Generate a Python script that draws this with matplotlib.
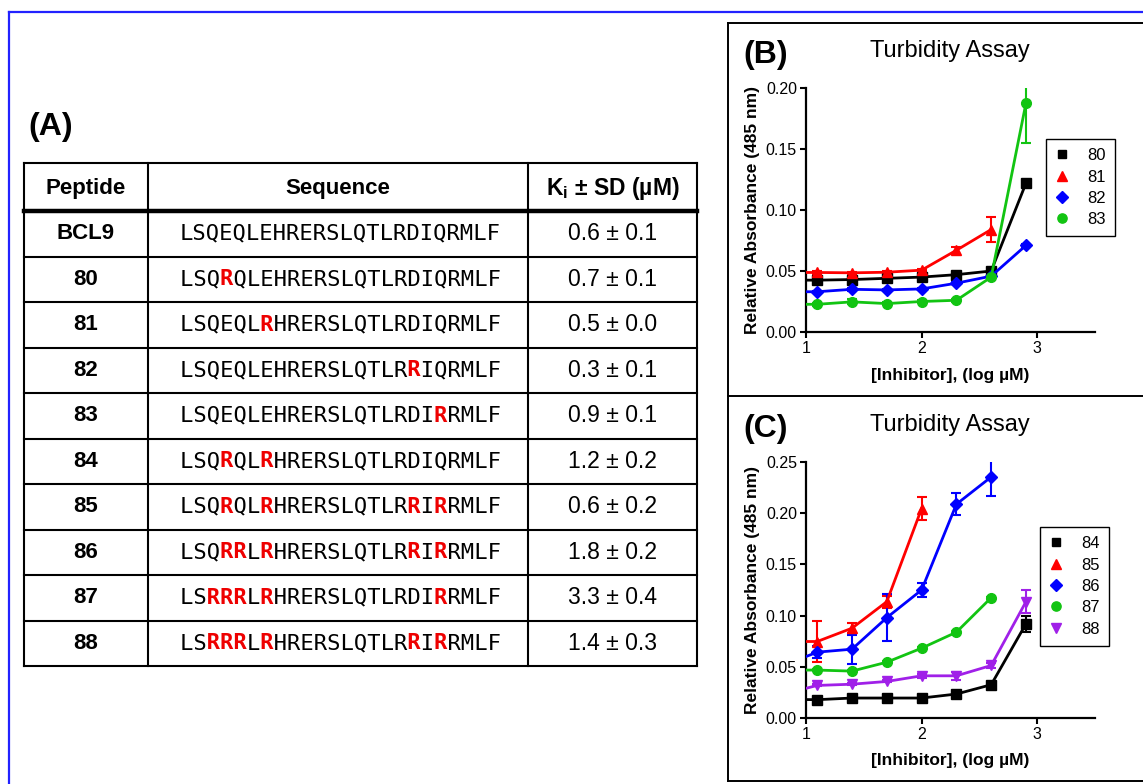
import matplotlib
matplotlib.use("Agg")
import matplotlib.pyplot as plt
from matplotlib.lines import Line2D
from matplotlib.ticker import FormatStrFormatter

plt.rcParams['font.family'] = ['Liberation Sans', 'DejaVu Sans']
plt.rcParams['mathtext.fontset'] = 'custom'
plt.rcParams['mathtext.rm'] = 'Liberation Sans'
plt.rcParams['mathtext.bf'] = 'Liberation Sans:bold'
plt.rcParams['mathtext.it'] = 'Liberation Sans:italic'

# ---------------- table (A) ----------------
peptides = ['BCL9', '80', '81', '82', '83', '84', '85', '86', '87', '88']
sequences = [
    'LSQEQLEHRERSLQTLRDIQRMLF',
    'LSQRQLEHRERSLQTLRDIQRMLF',
    'LSQEQLRHRERSLQTLRDIQRMLF',
    'LSQEQLEHRERSLQTLRRIQRMLF',
    'LSQEQLEHRERSLQTLRDIRRMLF',
    'LSQRQLRHRERSLQTLRDIQRMLF',
    'LSQRQLRHRERSLQTLRRIRRMLF',
    'LSQRRLRHRERSLQTLRRIRRMLF',
    'LSRRRLRHRERSLQTLRDIRRMLF',
    'LSRRRLRHRERSLQTLRRIRRMLF',
]
ki_mean = [0.6, 0.7, 0.5, 0.3, 0.9, 1.2, 0.6, 1.8, 3.3, 1.4]
ki_sd = [0.1, 0.1, 0.0, 0.1, 0.1, 0.2, 0.2, 0.2, 0.4, 0.3]

# ---------------- turbidity (B) ----------------
log_conc = [1.0, 1.097, 1.398, 1.699, 2.0, 2.301, 2.602, 2.903]
abs_80 = [0.0425, 0.0425, 0.043, 0.044, 0.045, 0.047, 0.050, 0.122]
sd_80 = [0, 0.001, 0.001, 0.001, 0.001, 0.001, 0.001, 0.002]
abs_81 = [0.0488, 0.0488, 0.0485, 0.049, 0.0507, 0.067, 0.084]
sd_81 = [0, 0.001, 0.001, 0.001, 0.001, 0.003, 0.010]
abs_82 = [0.033, 0.033, 0.035, 0.0345, 0.0353, 0.040, 0.0458, 0.071]
sd_82 = [0, 0.001, 0.001, 0.001, 0.001, 0.001, 0.001, 0.001]
abs_83 = [0.0227, 0.0227, 0.0247, 0.0233, 0.025, 0.026, 0.045, 0.1877]
sd_83 = [0, 0.001, 0.002, 0.001, 0.001, 0.001, 0.001, 0.033]

# ---------------- turbidity (C) ----------------
abs_84 = [0.018, 0.0179, 0.0195, 0.0195, 0.0195, 0.0234, 0.0325, 0.092]
sd_84 = [0, 0.001, 0.001, 0.001, 0.001, 0.001, 0.001, 0.008]
abs_85 = [0.0747, 0.0747, 0.0877, 0.1136, 0.2045]
sd_85 = [0, 0.020, 0.005, 0.006, 0.011]
abs_86 = [0.060, 0.0643, 0.0672, 0.098, 0.125, 0.2088, 0.2354]
sd_86 = [0, 0.006, 0.014, 0.023, 0.007, 0.011, 0.0185]
abs_87 = [0.0468, 0.0468, 0.0458, 0.0545, 0.0682, 0.0838, 0.1175]
sd_87 = [0, 0.001, 0.001, 0.001, 0.001, 0.001, 0.001]
abs_88 = [0.029, 0.0318, 0.033, 0.0357, 0.0412, 0.0412, 0.0513, 0.1136]
sd_88 = [0, 0.001, 0.001, 0.001, 0.002, 0.004, 0.002, 0.011]

GREEN = '#12c412'
PURPLE = '#a020e8'

W, H = 1143, 784
fig = plt.figure(figsize=(W / 100, H / 100), dpi=100)
fig.patch.set_facecolor('white')

# overlay in pixel units for frames and the table
ov = fig.add_axes([0, 0, 1, 1])
ov.set_xlim(0, W)
ov.set_ylim(H, 0)
ov.axis('off')

# outer blue frame and panel boxes
ov.plot([9, 9], [12, H + 5], color='#2222ff', lw=1.6, clip_on=False)
ov.plot([9, W + 5], [12, 12], color='#2222ff', lw=1.6, clip_on=False)
ov.plot([728, 728], [23, 781], color='black', lw=1.4, clip_on=False)
for yy in (23, 396, 781):
    ov.plot([728, W + 5], [yy, yy], color='black', lw=1.4, clip_on=False)

# ---- table ----
col_x = [24, 148, 528, 697]
top, head_bot, row_h = 163, 211, 45.5
n = len(peptides)
bottom = head_bot + row_h * n

ov.plot([col_x[0], col_x[-1]], [top, top], color='black', lw=1.5)
ov.plot([col_x[0], col_x[-1]], [head_bot, head_bot], color='black', lw=3.2)
for i in range(1, n + 1):
    yy = head_bot + row_h * i
    ov.plot([col_x[0], col_x[-1]], [yy, yy], color='black', lw=1.5)
for xx in col_x:
    ov.plot([xx, xx], [top, bottom], color='black', lw=1.5)

head_y = (top + head_bot) / 2 + 1
ov.text((col_x[0] + col_x[1]) / 2, head_y, 'Peptide', ha='center', va='center',
        fontsize=16, fontweight='bold')
ov.text((col_x[1] + col_x[2]) / 2, head_y, 'Sequence', ha='center', va='center',
        fontsize=16, fontweight='bold')
ov.text((col_x[2] + col_x[3]) / 2, head_y, r'K$_\mathregular{i}$ ± SD (µM)',
        ha='center', va='center', fontsize=16.5, fontweight='bold')

parent = sequences[0]
seq_left = 180
for i, (pep, seq, m, s) in enumerate(zip(peptides, sequences, ki_mean, ki_sd)):
    yc = head_bot + row_h * (i + 0.5)
    ov.text((col_x[0] + col_x[1]) / 2, yc, pep, ha='center', va='center',
            fontsize=16, fontweight='bold')
    black = ''.join(c if c == p else ' ' for c, p in zip(seq, parent))
    red = ''.join(c if c != p else ' ' for c, p in zip(seq, parent))
    ov.text(seq_left, yc, black, ha='left', va='center',
            family='DejaVu Sans Mono', fontsize=15.9, color='black')
    if red.strip():
        ov.text(seq_left, yc, red, ha='left', va='center',
                family='DejaVu Sans Mono', fontsize=15.9, color='#ee0000',
                fontweight='bold')
    ov.text((col_x[2] + col_x[3]) / 2, yc, f'{m:.1f} ± {s:.1f}', ha='center',
            va='center', fontsize=16.5)

ov.text(28, 127, '(A)', ha='left', va='center', fontsize=23, fontweight='bold')


def fx(x):
    return x / W


def fy(y):
    return 1 - y / H


def panel(y_zero, y_top, ymax, series, legend_top, legend_left, label, label_y):
    x0, x1 = 806, 1095
    ax = fig.add_axes([fx(x0), fy(y_zero), (x1 - x0) / W, (y_zero - y_top) / H])
    ax.set_facecolor('none')
    for yv, sd, color, marker, ms, name in series:
        xv = log_conc[:len(yv)]
        ax.errorbar(xv[1:], yv[1:], yerr=sd[1:], fmt='none', ecolor=color,
                    elinewidth=1.5, capsize=3.6, capthick=1.5, zorder=2)
        ax.plot(xv, yv, color=color, lw=2.0, marker=marker, ms=ms,
                markevery=slice(1, None), zorder=3)
    ax.set_xlim(1, 3.5)
    ax.set_ylim(0, ymax)
    ax.set_xticks([1, 2, 3])
    ax.set_yticks([v * 0.05 for v in range(int(round(ymax / 0.05)) + 1)])
    ax.yaxis.set_major_formatter(FormatStrFormatter('%.2f'))
    ax.xaxis.set_major_formatter(FormatStrFormatter('%d'))
    for sp in ('top', 'right'):
        ax.spines[sp].set_visible(False)
    for sp in ('left', 'bottom'):
        ax.spines[sp].set_linewidth(1.6)
    ax.tick_params(direction='out', length=4.5, width=1.5, labelsize=11.5,
                   pad=2)
    handles = [Line2D([], [], color=c, marker=mk, ls='none', ms=m * 0.95)
               for _, _, c, mk, m, _ in series]
    leg = ax.legend(handles, [s[-1] for s in series], loc='upper left',
                    bbox_to_anchor=(fx(legend_left), fy(legend_top)),
                    bbox_transform=fig.transFigure, frameon=True,
                    fancybox=False, edgecolor='black', framealpha=1,
                    fontsize=12, handlelength=0.8, handletextpad=1.1,
                    labelspacing=0.38, borderpad=0.55, borderaxespad=0)
    leg.get_frame().set_linewidth(1.0)
    fig.text(fx(950), fy(label_y), 'Turbidity Assay', ha='center', va='center',
             fontsize=17)
    fig.text(fx(743), fy(label_y + 4), label, ha='left', va='center',
             fontsize=23, fontweight='bold')
    fig.text(fx(752), fy((y_zero + y_top) / 2), 'Relative Absorbance (485 nm)',
             rotation=90, ha='center', va='center', fontsize=12.5,
             fontweight='bold')
    fig.text(fx(950), fy(y_zero + 43), '[Inhibitor], (log µM)', ha='center',
             va='center', fontsize=12.5, fontweight='bold')
    return ax


series_b = [
    (abs_80, sd_80, 'black', 's', 6.5, '80'),
    (abs_81, sd_81, '#ff0000', '^', 7.5, '81'),
    (abs_82, sd_82, '#0000ff', 'D', 6.2, '82'),
    (abs_83, sd_83, GREEN, 'o', 7.0, '83'),
]
series_c = [
    (abs_84, sd_84, 'black', 's', 6.5, '84'),
    (abs_85, sd_85, '#ff0000', '^', 7.5, '85'),
    (abs_86, sd_86, '#0000ff', 'D', 6.2, '86'),
    (abs_87, sd_87, GREEN, 'o', 7.0, '87'),
    (abs_88, sd_88, PURPLE, 'v', 7.5, '88'),
]

panel(332, 88, 0.20, series_b, 139, 1046, '(B)', 51)
panel(718, 462, 0.25, series_c, 527, 1040, '(C)', 425)

fig.savefig('out.png', dpi=100, facecolor='white')
